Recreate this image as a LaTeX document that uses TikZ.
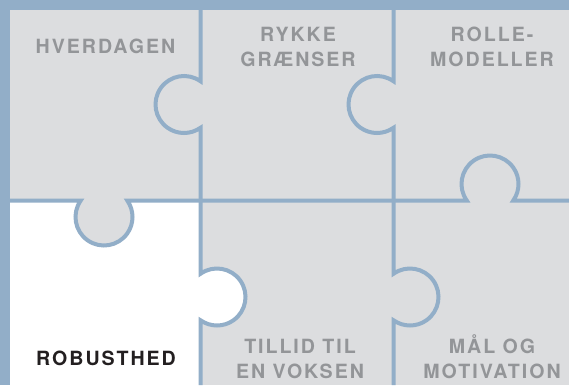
\documentclass[tikz,border=0pt]{standalone}
\usepackage{fontspec}
\setmainfont{TeX Gyre Heros}
\newfontfamily\labfont[LetterSpace=10]{TeX Gyre Heros}
\definecolor{frameblue}{HTML}{92AEC8}
\definecolor{piecegray}{HTML}{DCDDDF}
\definecolor{labgray}{HTML}{939598}
\definecolor{labblack}{HTML}{231F20}
\tikzset{
  seam/.style={draw=frameblue,line width=4pt,line join=miter},
  lab/.style={font=\labfont\bfseries\fontsize{19.6}{25}\selectfont,text=labgray,align=center,inner sep=0pt,anchor=base},
  labdark/.style={lab,text=labblack}
}
\begin{document}
\begin{tikzpicture}[x=1pt,y=-1pt]
\pgfmathsetmacro\R{28.5}
\pgfmathsetmacro\D{16.5}
\pgfmathsetmacro\Hh{sqrt(\R*\R-\D*\D)}
\pgfmathsetmacro\A{acos(\D/\R)}
\useasboundingbox (0,0) rectangle (569,385);
% frame and background
\fill[frameblue] (0,0) rectangle (569,385);
\fill[piecegray] (10,10) rectangle (569,385);
% white piece
\fill[white] (10,200.5) -- (104-\Hh,200.5)
  arc[start angle=270-\A, end angle=\A-90, radius=\R] -- (200.5,200.5)
  -- (200.5,297-\Hh) arc[start angle=\A-180, end angle=180-\A, radius=\R]
  -- (200.5,385) -- (10,385) -- cycle;
% horizontal seam
\draw[seam] (10,200.5) -- (104-\Hh,200.5)
  arc[start angle=270-\A, end angle=\A-90, radius=\R]
  -- (490-\Hh,200.5)
  arc[start angle=90+\A, end angle=450-\A, radius=\R]
  -- (569,200.5);
% vertical seams
\draw[seam] (200.5,10) -- (200.5,104.5-\Hh)
  arc[start angle=-\A, end angle=\A-360, radius=\R]
  -- (200.5,297-\Hh)
  arc[start angle=\A-180, end angle=180-\A, radius=\R]
  -- (200.5,385);
\draw[seam] (393.5,10) -- (393.5,104.5-\Hh)
  arc[start angle=-\A, end angle=\A-360, radius=\R]
  -- (393.5,297-\Hh)
  arc[start angle=\A-180, end angle=180-\A, radius=\R]
  -- (393.5,385);
% labels
\node[lab] (hverdagen) at (105.5,53.3) {HVERDAGEN};
\node[lab] (rykke) at (298,66.7) {RYKKE\\GRÆNSER};
\node[lab] (rolle) at (492,66.7) {ROLLE-\\MODELLER};
\node[labdark] (robust) at (106,365) {ROBUSTHED};
\node[lab] (tillid) at (300,378.3) {TILLID TIL\\EN VOKSEN};
\node[lab] (maal) at (492,378.3) {MÅL OG\\MOTIVATION};
\end{tikzpicture}
\end{document}
